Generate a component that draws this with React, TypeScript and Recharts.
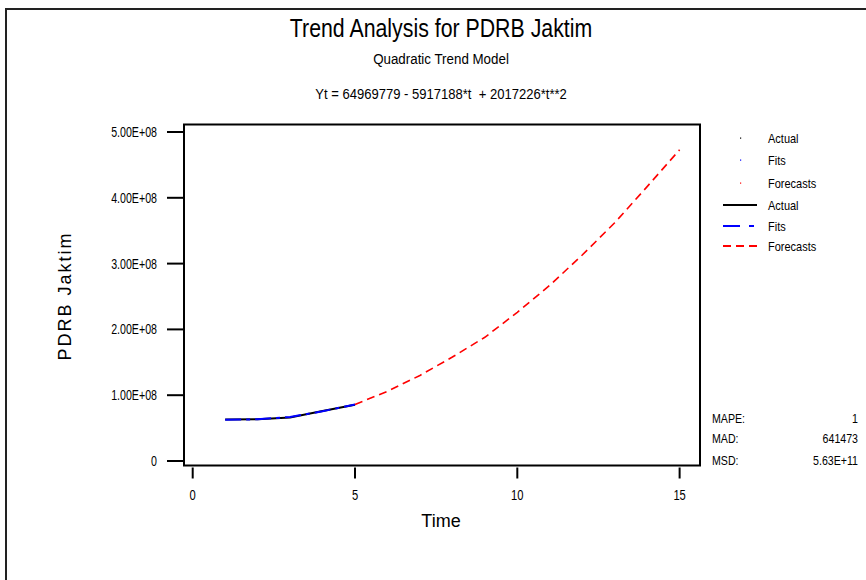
import React from 'react';
import { LineChart, Line, XAxis, YAxis, ReferenceArea } from 'recharts';

// values
const timeActual = [1, 2, 3, 4, 5];
const actualValues = [63.0e6, 63.6e6, 66.2e6, 76.0e6, 85.5e6];
const fitValues = [62.8e6, 63.3e6, 67.0e6, 75.5e6, 86.0e6];
const timeForecast = [5, 6, 7, 8, 9, 10, 11, 12, 13, 14, 15];
const forecastValues = [
  86.0e6, 106e6, 130e6, 158e6, 188e6, 226e6, 267e6, 313e6, 362e6, 417e6, 473e6,
];

const xTicks = [0, 5, 10, 15];
const yTicks = [0, 1e8, 2e8, 3e8, 4e8, 5e8];
const xDomain: [number, number] = [-0.268, 15.628];
const yDomain: [number, number] = [-6.84e6, 5.114e8];

const stats = [
  { label: 'MAPE:', value: '1' },
  { label: 'MAD:', value: '641473' },
  { label: 'MSD:', value: '5.63E+11' },
];

const sans = '"Liberation Sans", Arial, sans-serif';

const data = Array.from({ length: 15 }, (_, i) => {
  const t = i + 1;
  const ai = timeActual.indexOf(t);
  const fi = timeForecast.indexOf(t);
  return {
    t,
    actual: ai >= 0 ? actualValues[ai] : null,
    fits: ai >= 0 ? fitValues[ai] : null,
    forecast: fi >= 0 ? forecastValues[fi] : null,
  };
});

const fmtY = (v: number) => (v === 0 ? '0' : `${(v / 1e8).toFixed(2)}E+08`);

// Arial Narrow look: squeeze regular Liberation Sans horizontally
const NText = ({ x, y, anchor = 'start', size = 12, sx = 0.85, children }: any) => (
  <text
    transform={`translate(${x},${y}) scale(${sx},1)`}
    textAnchor={anchor}
    fontFamily={sans}
    fontSize={size}
    fill="#000"
    style={{ whiteSpace: 'pre' }}
  >
    {children}
  </text>
);

const XTick = ({ x, y, payload }: any) => (
  <g>
    <line x1={x} x2={x} y1={y + 2} y2={y + 13} stroke="#000" strokeWidth={2} />
    <NText x={x} y={y + 34} anchor="middle" size={14} sx={0.8}>
      {payload.value}
    </NText>
  </g>
);

const YTick = ({ x, y, payload }: any) => (
  <g>
    <line x1={x - 17} x2={x} y1={y} y2={y} stroke="#000" strokeWidth={2} />
    <NText x={x - 27} y={y + 5} anchor="end" size={14} sx={0.76}>
      {fmtY(payload.value)}
    </NText>
  </g>
);

const legendRows = [
  { kind: 'dot', color: '#000', label: 'Actual' },
  { kind: 'dot', color: '#0000ff', label: 'Fits' },
  { kind: 'dot', color: '#ff0000', label: 'Forecasts' },
  { kind: 'line', color: '#000', dash: undefined, label: 'Actual' },
  { kind: 'line', color: '#0000ff', dash: '17 9 5 9', label: 'Fits' },
  { kind: 'line', color: '#ff0000', dash: '8 5', label: 'Forecasts' },
];
const legendY = [138, 160, 183, 205, 226, 246];
const statsY = [418, 438, 460];

const Overlay = () => (
  <svg width={866} height={580} style={{ position: 'absolute', left: 0, top: 0, pointerEvents: 'none' }}>
    <NText x={441} y={37} anchor="middle" size={26} sx={0.82}>
      Trend Analysis for PDRB Jaktim
    </NText>
    <NText x={441} y={64} anchor="middle" size={15} sx={0.89}>
      Quadratic Trend Model
    </NText>
    <NText x={441} y={99} anchor="middle" size={15} sx={0.87}>
      {'Yt = 64969779 - 5917188*t  + 2017226*t**2'}
    </NText>
    {legendRows.map((r, i) => (
      <g key={i}>
        {r.kind === 'dot' ? (
          <rect x={740} y={legendY[i] - 0.5} width={1.2} height={1.2} fill={r.color} />
        ) : (
          <line x1={723} x2={757} y1={legendY[i]} y2={legendY[i]} stroke={r.color} strokeWidth={2} strokeDasharray={r.dash} />
        )}
        <NText x={768} y={legendY[i] + 4.5} size={12.5} sx={0.88}>
          {r.label}
        </NText>
      </g>
    ))}
    {stats.map((s, i) => (
      <g key={s.label}>
        <NText x={712} y={statsY[i] + 4.5} size={12.5} sx={0.85}>
          {s.label}
        </NText>
        <NText x={858} y={statsY[i] + 4.5} anchor="end" size={12.5} sx={0.85}>
          {s.value}
        </NText>
      </g>
    ))}
  </svg>
);

export default function App() {
  return (
    <div style={{ position: 'absolute', left: 0, top: 0, width: 866, height: 580, background: '#fff', overflow: 'hidden' }}>
      <div
        style={{
          position: 'absolute',
          left: 5,
          top: 8,
          width: 866,
          height: 580,
          borderLeft: '2px solid #222',
          borderTop: '2px solid #222',
        }}
      />
      <div
        style={{
          position: 'absolute',
          left: 65,
          top: 296,
          transform: 'translate(-50%, -50%) rotate(-90deg)',
          fontFamily: sans,
          fontSize: 18,
          letterSpacing: 2,
          whiteSpace: 'nowrap',
        }}
      >
        PDRB Jaktim
      </div>
      <div style={{ position: 'absolute', left: 0, width: 882, top: 510, textAlign: 'center', fontFamily: sans, fontSize: 18, lineHeight: '22px' }}>
        Time
      </div>
      <div style={{ position: 'absolute', left: 0, top: 0 }}>
        <LineChart width={866} height={580} data={data} margin={{ top: 124.5, right: 166, bottom: 74.5, left: 84 }}>
          <XAxis
            dataKey="t"
            type="number"
            domain={xDomain}
            ticks={xTicks}
            allowDataOverflow
            axisLine={false}
            tickLine={false}
            tickSize={0}
            tickMargin={0}
            height={40}
            tick={<XTick />}
          />
          <YAxis
            type="number"
            domain={yDomain}
            ticks={yTicks}
            allowDataOverflow
            axisLine={false}
            tickLine={false}
            tickSize={0}
            tickMargin={0}
            width={100}
            tick={<YTick />}
          />
          <ReferenceArea
            x1={xDomain[0]}
            x2={xDomain[1]}
            y1={yDomain[0]}
            y2={yDomain[1]}
            fill="none"
            fillOpacity={0}
            stroke="#000"
            strokeWidth={2}
            ifOverflow="visible"
          />
          <Line dataKey="actual" name="Actual" stroke="#000" strokeWidth={2} dot={false} isAnimationActive={false} />
          <Line dataKey="fits" name="Fits" stroke="#0000ff" strokeWidth={2} strokeDasharray="16 5 4 5" dot={false} isAnimationActive={false} />
          <Line dataKey="forecast" name="Forecasts" stroke="#ff0000" strokeWidth={1.6} strokeDasharray="8 5" dot={false} isAnimationActive={false} />
        </LineChart>
      </div>
      <Overlay />
    </div>
  );
}
